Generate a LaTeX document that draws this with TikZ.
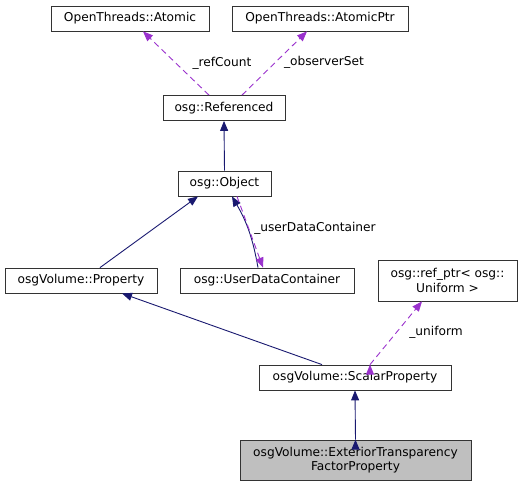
\documentclass[tikz,border=0pt]{standalone}
\usepackage{fontspec}
\setmainfont{DejaVu Sans}
\usetikzlibrary{arrows.meta}
\definecolor{edgeblue}{HTML}{191970}
\definecolor{edgepurple}{HTML}{9A32CD}
\definecolor{nodegray}{HTML}{BFBFBF}

\begin{document}
\begin{tikzpicture}[x=1pt,y=-1pt]
\tikzset{every node/.style={draw=black!80,line width=0.8pt,inner sep=0pt,
minimum height=25pt, align=center, font=\fontsize{12.2}{14.5}\selectfont},
edgelabel/.style={draw=none,minimum height=0pt}}
\useasboundingbox (0,0) rectangle (531,487);

\node[minimum width=158pt] (Atomic) at (130,18.5) {OpenThreads::Atomic};
\node[minimum width=176pt] (AtomicPtr) at (320,18.5) {OpenThreads::AtomicPtr};
\node[minimum width=122pt] (Referenced) at (224,108) {osg::Referenced};
\node[minimum width=93pt] (Object) at (224.5,183.5) {osg::Object};
\node[minimum width=152pt] (Property) at (81,280.5) {osgVolume::Property};
\node[minimum width=174pt] (UserDataContainer) at (267,280.5) {osg::UserDataContainer};
\node[minimum width=139pt,minimum height=41pt] (Uniform) at (447.5,280.5) {osg::ref\_ptr< osg::\\Uniform >};
\node[minimum width=192pt] (ScalarProperty) at (355,377.5) {osgVolume::ScalarProperty};
\node[minimum width=231pt,minimum height=40pt,fill=nodegray] (Exterior) at (355.5,460) {osgVolume::ExteriorTransparency\\FactorProperty};

% inheritance
\path[draw,line width=0.9pt,edgeblue,-{Triangle[length=10pt,width=8pt]}]
(Object.north) edge (Referenced.south)
([xshift=19pt]Property.north) edge ([xshift=-26.5pt]Object.south)
([xshift=-9pt]UserDataContainer.north) edge[bend right=10] ([xshift=7.5pt]Object.south)
([xshift=-33pt]ScalarProperty.north) edge ([xshift=41pt]Property.south)
(Exterior.north) edge (ScalarProperty.south);

% members
\path[draw,line width=0.9pt,edgepurple,dash pattern=on 6pt off 4pt,-{Triangle[length=10pt,width=8pt]}]
([xshift=-15pt]Referenced.north) edge ([xshift=13pt]Atomic.south)
([xshift=18pt]Referenced.north) edge ([xshift=-13pt]AtomicPtr.south)
([xshift=12.5pt]Object.south) edge ([xshift=-4pt]UserDataContainer.north)
([xshift=15pt]ScalarProperty.north) edge ([xshift=-25.5pt]Uniform.south);

\node[edgelabel] at (222,63) {\_refCount};
\node[edgelabel] at (324,62) {\_observerSet};
\node[edgelabel] at (315,228) {\_userDataContainer};
\node[edgelabel] at (436,332) {\_uniform};
\end{tikzpicture}
\end{document}
